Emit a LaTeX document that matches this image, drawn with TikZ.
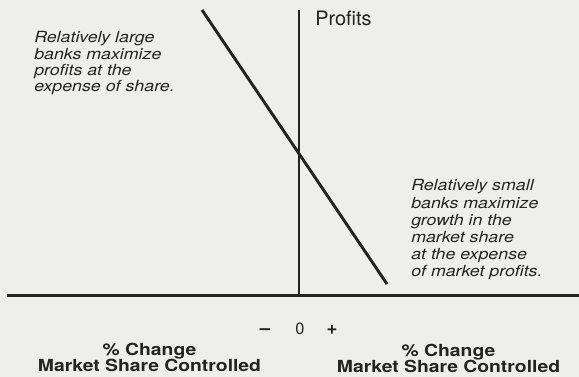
\documentclass[tikz,border=0pt]{standalone}
\usepackage{fontspec}
\setmainfont{TeX Gyre Heros}
\newfontfamily\wideheros[FakeStretch=1.16]{TeX Gyre Heros}
\definecolor{paper}{RGB}{238,238,234}
\definecolor{ink}{RGB}{35,35,35}
\begin{document}
\begin{tikzpicture}[x=0.75pt,y=-0.75pt,
  axis/.style={draw=ink,line width=2.2pt},
  note/.style={anchor=base west,inner sep=0pt,align=left,text=ink,
    font=\wideheros\itshape\fontsize{11.5}{12.2}\selectfont},
  sign/.style={anchor=base,inner sep=0pt,text=ink,font=\bfseries\fontsize{14}{16}\selectfont},
  caption/.style={anchor=base,inner sep=0pt,align=center,text=ink,
    font=\wideheros\bfseries\fontsize{12.5}{12}\selectfont}]
  \fill[paper] (0,0) rectangle (579,377);
  \useasboundingbox (0,0) rectangle (579,377);

  % axes and the trade-off line
  \coordinate (ytop) at (299,10);
  \coordinate (origin) at (299,295.5);
  \coordinate (xleft) at (7,295.5);
  \coordinate (xright) at (579,295.5);
  \coordinate (dtop) at (202,10);
  \coordinate (dbot) at (387,284);
  \draw[axis] (ytop) -- (origin);
  \draw[axis] (xleft) -- (xright);
  \draw[axis] (dtop) -- (dbot);

  \node[anchor=base west,inner sep=0pt,text=ink,font=\fontsize{14.9}{16}\selectfont]
    (profits) at (315,26) {Profits};

  % multi-line notes sit on the baseline of their last line
  \node[note] (large) at (34,91.7) {Relatively large\\banks maximize\\profits at the\\expense of share.};
  \node[note,font=\wideheros\itshape\fontsize{11.5}{12.9}\selectfont] (small) at (411,277)
    {Relatively small\\banks maximize\\growth in the\\market share\\at the expense\\of market profits.};

  % sign of the change along the x axis
  \node[sign] (minus) at (265,335) {–};
  \node[sign,font=\fontsize{12.3}{14}\selectfont] (zero) at (300,335) {0};
  \node[sign] (plus) at (332,335) {+};

  \node[caption] (capleft) at (149.5,372) {\% Change\\Market Share Controlled};
  \node[caption] (capright) at (448.5,372.3) {\% Change\\Market Share Controlled};
\end{tikzpicture}
\end{document}
